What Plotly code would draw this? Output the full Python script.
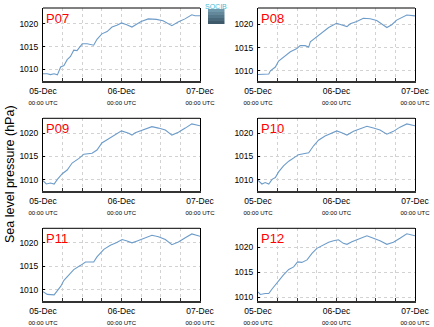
import plotly.graph_objects as go
import pandas as pd

stations = ["P07", "P08", "P09", "P10", "P11", "P12"]

# hours since 05-Dec 00:00 UTC and sea level pressure (hPa)
p07_h = [0, 1.3, 2.3, 3.4, 4.4, 5.4, 6.4, 7.4, 8.4, 9.4, 10.4, 12, 13.5, 15.5, 16.5, 18, 19.6, 21.1, 22.6, 24, 25.6, 27.2, 28.6, 30, 32.2, 34.7, 36.7, 39.4, 41.3, 43.4, 45.5, 46.5, 48]
p07_v = [1009.0, 1009.0, 1008.8, 1009.0, 1008.75, 1010.5, 1010.8, 1012.1, 1012.8, 1014.2, 1014.1, 1015.6, 1015.6, 1015.3, 1016.6, 1017.8, 1018.3, 1019.3, 1019.7, 1020.2, 1019.8, 1019.3, 1019.9, 1020.5, 1021.1, 1021.0, 1020.7, 1019.6, 1020.4, 1021.1, 1022.0, 1021.8, 1021.8]

p08_h = [0, 1.7, 3.3, 3.8, 5.3, 6.3, 8.3, 9.9, 11.9, 12.9, 14.4, 15.5, 16, 18, 20, 21.6, 24, 25.6, 27.2, 28.2, 30.2, 32.2, 34.3, 36.3, 39.4, 40.9, 42.4, 45.5, 48]
p08_v = [1009.2, 1009.2, 1009.3, 1010.0, 1010.8, 1012.1, 1013.3, 1014.1, 1014.8, 1015.4, 1015.4, 1015.1, 1016.2, 1017.3, 1018.4, 1019.3, 1020.2, 1019.9, 1019.5, 1020.1, 1020.6, 1021.3, 1021.2, 1020.8, 1019.3, 1019.9, 1020.9, 1022.0, 1021.8]

p09_h = [0, 1.0, 2.3, 3.4, 4.4, 5.9, 7.4, 8.9, 11, 12.5, 15, 16.5, 18, 19.6, 21.6, 24, 26.2, 27.2, 28.2, 30, 33.3, 35.3, 37.4, 39.4, 41.4, 43.5, 45.5, 48]
p09_v = [1009.8, 1009.1, 1009.3, 1009.1, 1010.1, 1011.3, 1012.1, 1013.6, 1014.6, 1015.5, 1015.7, 1016.4, 1017.9, 1018.6, 1019.6, 1020.5, 1020.0, 1019.6, 1020.1, 1020.6, 1021.4, 1021.1, 1020.7, 1019.6, 1020.2, 1021.1, 1022.0, 1021.6]

p10_h = [0, 1.2, 2.2, 3.3, 4.3, 5.3, 6.3, 7.8, 9.4, 10.9, 12.4, 13.9, 15.5, 17, 18.5, 20.5, 22.6, 24.1, 25.6, 27.2, 29.2, 30.7, 33.3, 35.3, 37.3, 39.4, 41.4, 43.4, 45.5, 48]
p10_v = [1009.9, 1009.1, 1009.4, 1009.1, 1010.1, 1010.5, 1011.7, 1013.0, 1014.0, 1014.7, 1015.4, 1015.6, 1015.8, 1017.3, 1018.5, 1019.4, 1020.0, 1020.5, 1020.1, 1019.6, 1020.4, 1020.8, 1021.5, 1021.1, 1020.7, 1019.8, 1020.4, 1021.3, 1022.0, 1021.6]

p11_h = [0, 1.3, 3.4, 4.4, 5.4, 6.4, 7.9, 9.4, 11.5, 13, 15.5, 16.5, 18.6, 20.6, 22.4, 24.2, 25.7, 27.2, 28.8, 30.8, 33.3, 35.3, 37.4, 39.4, 41.4, 43.5, 45.5, 48]
p11_v = [1009.6, 1009.0, 1008.9, 1009.9, 1010.7, 1012.0, 1013.1, 1014.3, 1015.2, 1015.9, 1015.9, 1017.0, 1018.6, 1019.5, 1020.0, 1020.7, 1020.4, 1020.0, 1020.4, 1020.9, 1021.6, 1021.3, 1020.7, 1019.6, 1020.2, 1021.1, 1021.9, 1021.4]

p12_h = [0, 0.7, 2.2, 3.3, 4.3, 5.3, 6.3, 7.8, 9.4, 10.9, 12.1, 13.4, 15, 16.5, 18, 20, 21.6, 23.1, 24.6, 26.1, 27.2, 28.7, 30.7, 33.3, 35.3, 37.3, 39.4, 41.4, 43.4, 45.5, 48]
p12_v = [1011.1, 1010.6, 1010.8, 1010.8, 1011.7, 1012.5, 1013.5, 1014.5, 1015.6, 1016.1, 1017.1, 1017.0, 1017.5, 1018.8, 1019.8, 1020.5, 1021.0, 1021.3, 1021.5, 1020.8, 1020.6, 1021.1, 1021.6, 1022.3, 1021.8, 1021.3, 1020.6, 1021.0, 1021.8, 1022.7, 1022.3]

y_ranges = [[1007.4, 1023.5], [1007.8, 1023.5], [1007.6, 1023.2], [1007.6, 1023.2], [1007.7, 1023.1], [1009.4, 1023.8]]

tick_dates = ["2013-12-05 00:00", "2013-12-06 00:00", "2013-12-07 00:00"]
tick_day = ["05-Dec", "06-Dec", "07-Dec"]
tick_time = "00:00 UTC"

hours = [p07_h, p08_h, p09_h, p10_h, p11_h, p12_h]
values = [p07_v, p08_v, p09_v, p10_v, p11_v, p12_v]

W, H = 434, 327
col_px = [(43, 200), (258, 415)]
row_px = [(8, 81), (118.3, 191), (228.3, 300.5)]

t0 = pd.Timestamp(tick_dates[0])
fig = go.Figure()
FONT = "Liberation Sans, Arial, sans-serif"
ticktext = [f"{d}<br><span style='font-size:6px'>{tick_time}</span>" for d in tick_day]
GRID = "#d2d2d2"

for i, name in enumerate(stations):
    r, c = divmod(i, 2)
    ax = "" if i == 0 else str(i + 1)
    xs = [t0 + pd.Timedelta(hours=h) for h in hours[i]]
    fig.add_trace(go.Scatter(x=xs, y=values[i], mode="lines",
                             line=dict(color="#6d9cc9", width=1.1),
                             xaxis="x" + ax, yaxis="y" + ax, showlegend=False))
    x0, x1 = col_px[c]
    y0, y1 = row_px[r]
    xd = [x0 / W, x1 / W]
    yd = [1 - y1 / H, 1 - y0 / H]
    fig.layout["xaxis" + ax] = dict(
        domain=xd, anchor="y" + ax, type="date", automargin=False,
        range=[tick_dates[0], tick_dates[2]],
        tickvals=tick_dates, ticktext=ticktext,
        tickfont=dict(size=8.5, color="black", family=FONT),
        showgrid=True, gridcolor=GRID, griddash="dot", gridwidth=1,
        ticks="inside", ticklen=3, tickcolor="#333",
        minor=dict(dtick=6 * 3600 * 1000, showgrid=True, gridcolor=GRID,
                   griddash="dot", ticks="inside", ticklen=3, tickcolor="#333"),
        showline=True, linecolor="#333", linewidth=2, mirror=False,
        zeroline=False, fixedrange=True, ticklabelstandoff=1,
    )
    fig.layout["yaxis" + ax] = dict(
        domain=yd, anchor="x" + ax, range=y_ranges[i], automargin=False,
        tick0=1010, dtick=5,
        tickfont=dict(size=8.5, color="black", family=FONT),
        showgrid=True, gridcolor=GRID, griddash="dot", gridwidth=1,
        ticks="inside", ticklen=2, tickcolor="black",
        showline=True, linecolor="black", linewidth=1, mirror=True,
        zeroline=False, fixedrange=True, ticklabelstandoff=2,
    )
    fig.add_shape(type="line", xref="x" + ax + " domain", yref="y" + ax + " domain",
                  x0=0, x1=1, y0=1, y1=1, line=dict(color="black", width=1))
    fig.add_annotation(text=name, xref="paper", yref="paper",
                       x=xd[0] + 1 / W, y=yd[1] - 1 / H,
                       xanchor="left", yanchor="top", showarrow=False,
                       font=dict(size=13, color="red", family=FONT))

fig.add_annotation(text="Sea level pressure (hPa)", xref="paper", yref="paper",
                   x=10 / W, y=1 - 174 / H, textangle=-90, showarrow=False,
                   xanchor="center", yanchor="middle",
                   font=dict(size=12.5, color="black", family=FONT))

# small logo
logo_cols = ["#6f99aa", "#62889a", "#55788a", "#49687a", "#3e5a6a"]
for k, col in enumerate(logo_cols):
    fig.add_shape(type="rect", xref="paper", yref="paper",
                  x0=208 / W, x1=224.5 / W, y0=1 - (9 + 3 * (k + 1)) / H, y1=1 - (9 + 3 * k) / H,
                  fillcolor=col, line=dict(width=0))
fig.add_annotation(text="SOCIB", xref="paper", yref="paper",
                   x=216 / W, y=1 - 6 / H, showarrow=False,
                   xanchor="center", yanchor="middle",
                   font=dict(size=7, color="#3fbcd8", family=FONT))

fig.update_layout(width=W, height=H, margin=dict(l=0, r=0, t=0, b=0),
                  paper_bgcolor="white", plot_bgcolor="white")
fig.write_html("out.html")
